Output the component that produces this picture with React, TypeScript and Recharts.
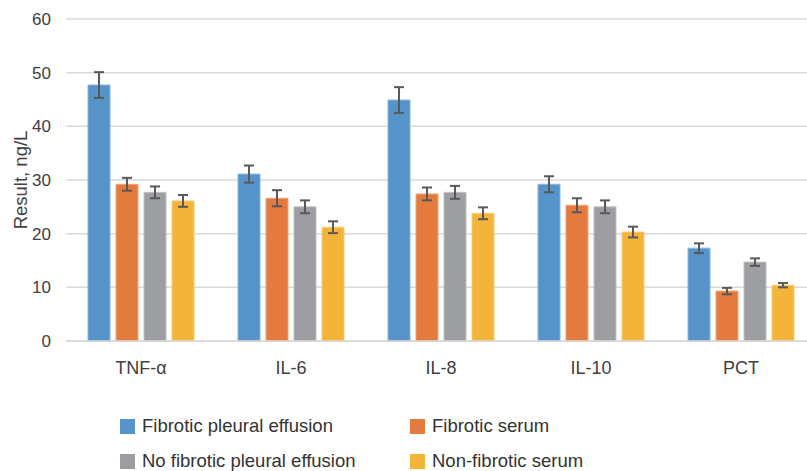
import { BarChart, Bar, XAxis, YAxis, CartesianGrid, ErrorBar, Label } from "recharts";

const categories = ["TNF-α", "IL-6", "IL-8", "IL-10", "PCT"];

const fibroticPleural = [47.7, 31.1, 44.9, 29.2, 17.3];
const fibroticPleuralErr = [2.4, 1.6, 2.4, 1.5, 0.9];
const fibroticSerum = [29.2, 26.6, 27.4, 25.3, 9.3];
const fibroticSerumErr = [1.2, 1.5, 1.2, 1.3, 0.6];
const noFibroticPleural = [27.7, 25.0, 27.7, 25.0, 14.7];
const noFibroticPleuralErr = [1.1, 1.2, 1.2, 1.2, 0.7];
const nonFibroticSerum = [26.1, 21.2, 23.8, 20.3, 10.4];
const nonFibroticSerumErr = [1.1, 1.1, 1.1, 1.0, 0.4];

const yTicks = [0, 10, 20, 30, 40, 50, 60];

const series = [
  { key: "fp", name: "Fibrotic pleural effusion", color: "#5593c8", stroke: "#8ab4dc" },
  { key: "fs", name: "Fibrotic serum", color: "#e57a3f", stroke: "#f0a47a" },
  { key: "np", name: "No fibrotic pleural effusion", color: "#9d9ea2", stroke: "#c0c1c4" },
  { key: "ns", name: "Non-fibrotic serum", color: "#f4b339", stroke: "#f8cd7a" },
];

const data = categories.map((c, i) => ({
  name: c,
  fp: fibroticPleural[i],
  fpErr: fibroticPleuralErr[i],
  fs: fibroticSerum[i],
  fsErr: fibroticSerumErr[i],
  np: noFibroticPleural[i],
  npErr: noFibroticPleuralErr[i],
  ns: nonFibroticSerum[i],
  nsErr: nonFibroticSerumErr[i],
}));

const FONT = '"Liberation Sans", Arial, Helvetica, sans-serif';

// legend drawn as plain html under the plot, 2x2 grid like the original
function LegendBox() {
  const cols = [120, 410];
  const rows = [415, 450];
  return (
    <>
      {series.map((s, i) => (
        <div
          key={s.key}
          style={{
            position: "absolute",
            left: cols[i % 2],
            top: rows[Math.floor(i / 2)],
            display: "flex",
            alignItems: "center",
            fontFamily: FONT,
            fontSize: 18.5,
            color: "#333",
            whiteSpace: "nowrap",
          }}
        >
          <span
            style={{
              width: 15,
              height: 15,
              background: s.color,
              display: "inline-block",
              marginRight: 7,
            }}
          />
          <span>{s.name}</span>
        </div>
      ))}
    </>
  );
}

export default function App() {
  // the original picture is cropped on the right: plot runs past the edge
  return (
    <div
      style={{
        position: "absolute",
        left: 0,
        top: 0,
        width: 807,
        height: 471,
        overflow: "hidden",
        background: "#fff",
      }}
    >
      <BarChart
        width={816}
        height={471}
        data={data}
        margin={{ top: 19, right: 0, left: 0, bottom: 90 }}
        barSize={22}
        barGap={6}
      >
        <CartesianGrid vertical={false} stroke="#d9d9d9" strokeWidth={1.5} />
        <XAxis
          dataKey="name"
          height={40}
          tickLine={false}
          axisLine={{ stroke: "#d9d9d9", strokeWidth: 1.5 }}
          tickMargin={14}
          tick={{ fontSize: 18, fill: "#404040", fontFamily: FONT }}
        />
        <YAxis
          width={66}
          domain={[0, 60]}
          ticks={yTicks}
          axisLine={false}
          tickLine={false}
          tickMargin={9}
          tick={{ fontSize: 17, fill: "#404040", fontFamily: FONT }}
        >
          <Label
            value="Result, ng/L"
            angle={-90}
            position="insideLeft"
            offset={20}
            style={{ textAnchor: "middle", fontSize: 18.5, fill: "#404040", fontFamily: FONT }}
          />
        </YAxis>
        {series.map((s) => (
          <Bar
            key={s.key}
            dataKey={s.key}
            name={s.name}
            fill={s.color}
            stroke={s.stroke}
            strokeWidth={1}
            isAnimationActive={false}
          >
            <ErrorBar dataKey={s.key + "Err"} width={5} stroke="#595959" strokeWidth={2} direction="y" />
          </Bar>
        ))}
      </BarChart>
      <LegendBox />
    </div>
  );
}
